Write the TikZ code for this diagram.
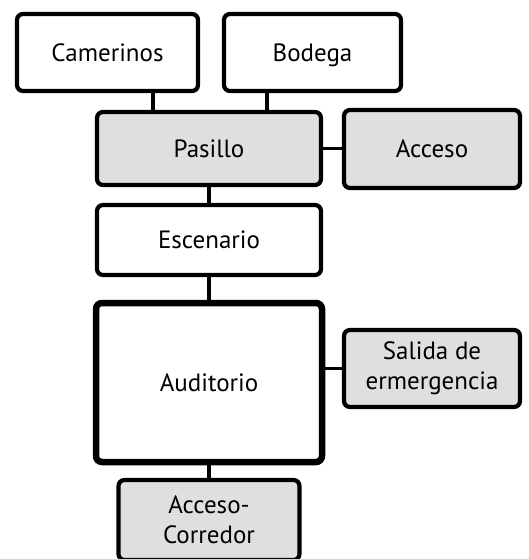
\documentclass[tikz,border=0pt]{standalone}
\usepackage{fontspec}
\setmainfont{PT Sans}
\begin{document}
\begin{tikzpicture}[x=1pt,y=-1pt,
  box/.style={draw=black,line width=4.2pt,rounded corners=6pt,fill=white,
    inner sep=0pt,align=center,font=\fontsize{25}{30}\selectfont},
  one/.style={text height=17.5pt,text depth=0pt},
  grey/.style={fill=gray!25},
  link/.style={draw=black,line width=3.2pt}]
\useasboundingbox[fill=white] (0,0) rectangle (529,559);
\coordinate (c1) at (153,60);
\coordinate (c2) at (267,60);
\node[box,one,minimum width=181pt,minimum height=77pt] (cam) at (107.5,52.5) {Camerinos};
\node[box,one,minimum width=177pt,minimum height=77pt] (bod) at (312.5,52.5) {Bodega};
\node[box,one,grey,minimum width=224pt,minimum height=73pt] (pas) at (209,148.5) {Pasillo};
\node[box,one,grey,minimum width=176pt,minimum height=78pt] (acc) at (432,149) {Acceso};
\node[box,one,minimum width=224pt,minimum height=70pt] (esc) at (209,240) {Escenario};
\node[box,one,line width=6.5pt,minimum width=226pt,minimum height=159pt] (aud) at (209,382.5) {Auditorio};
\node[box,grey,minimum width=176pt,minimum height=77pt] (sal) at (432,368.5) {Salida de\\ermergencia};
\node[box,grey,minimum width=181pt,minimum height=80pt] (cor) at (209,520) {Acceso-\\Corredor};
\draw[link] (cam.south -| c1) -- (pas.north -| c1);
\draw[link] (bod.south -| c2) -- (pas.north -| c2);
\draw[link] (pas.east) -- (acc.west |- pas.east);
\draw[link] (pas.south) -- (esc.north);
\draw[link] (esc.south) -- (aud.north);
\draw[link] (aud.east |- sal.west) -- (sal.west);
\draw[link] (aud.south) -- (aud.south |- cor.north);
\end{tikzpicture}
\end{document}
